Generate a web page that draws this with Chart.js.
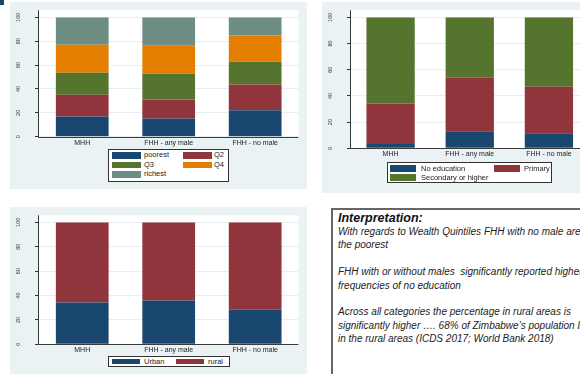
<!DOCTYPE html>
<html>
<head>
<meta charset="utf-8">
<script src="https://cdn.jsdelivr.net/npm/chart.js@4.4.0/dist/chart.umd.min.js"></script>
<style>
    html, body { margin: 0; padding: 0; width: 580px; height: 374px; overflow: hidden; background: #fff; }
    body { position: relative; font-family: "Liberation Sans", Arial, sans-serif; }
    .panel { position: absolute; background: #eaf2f3; }
    .panel canvas { position: absolute; left: 0; top: 0; }
    .legend { position: absolute; background: #fff; border: 1px solid #333; box-sizing: border-box; }
    .legend .key { position: absolute; }
    .legend .lbl { position: absolute; font-size: 7.5px; color: #222; white-space: nowrap; }
    #corner { position: absolute; left: 0; top: 0; width: 4px; height: 5px; background: #1a476f; }
    #notes {
        position: absolute; left: 331px; top: 208px; width: 300px; height: 200px;
        border: 2px solid #666; background: #fff; padding: 1px 0 0 5px;
        font-family: "Liberation Sans", Arial, sans-serif; color: #222; white-space: nowrap;
    }
    #notes h4 { margin: 0; font-size: 12.5px; line-height: 14px; font-style: italic; font-weight: bold; color: #111; }
    #notes p { margin: 0; font-size: 10px; line-height: 13.4px; font-style: italic; }
</style>
</head>
<body>
<div id="corner"></div>

<div class="panel" style="left:10px; top:2px; width:297px; height:187px;">
    <canvas id="wealthChart" width="297" height="187"></canvas>
</div>
<div class="panel" style="left:322px; top:2px; width:280px; height:191px;">
    <canvas id="eduChart" width="280" height="191"></canvas>
</div>
<div class="panel" style="left:10px; top:207px; width:297px; height:180px;">
    <canvas id="areaChart" width="297" height="180"></canvas>
</div>

<div id="wealthLegend" class="legend" style="left:108px; top:149px; width:121px; height:33px;"></div>
<div id="eduLegend" class="legend" style="left:387px; top:162px; width:165px; height:21px;"></div>
<div id="areaLegend" class="legend" style="left:108px; top:356px; width:122px; height:11px;"></div>

<div id="notes">
    <h4>Interpretation:</h4>
    <p>With regards to Wealth Quintiles FHH with no male are<br>
    the poorest<br>
    &nbsp;<br>
    FHH with or without males&nbsp; significantly reported higher<br>
    frequencies of no education<br>
    &nbsp;<br>
    Across all categories the percentage in rural areas is<br>
    significantly higher …. 68% of Zimbabwe’s population lives<br>
    in the rural areas (ICDS 2017; World Bank 2018)</p>
</div>

<script>
// Categories shared by all three panels
const categories = ["MHH", "FHH - any male", "FHH - no male"];
const yTicks = [0, 20, 40, 60, 80, 100];

// Wealth quintiles (% of households)
const wealthNames = ["poorest", "Q2", "Q3", "Q4", "richest"];
const wealthPoorest = [17.0, 15.3, 22.1];
const wealthQ2 = [18.2, 15.8, 21.7];
const wealthQ3 = [18.4, 21.7, 19.0];
const wealthQ4 = [23.4, 23.4, 21.9];
const wealthRichest = [23.0, 23.8, 15.3];

// Education of household head (%)
const eduNames = ["No education", "Primary", "Secondary or higher"];
const eduNone = [3.2, 13.0, 11.5];
const eduPrimary = [31.0, 40.9, 35.4];
const eduSecondary = [65.8, 46.1, 53.1];

// Place of residence (%)
const areaNames = ["Urban", "rural"];
const areaUrban = [34.3, 35.9, 28.4];
const areaRural = [65.7, 64.1, 71.6];

// Stata s2color palette
const navy = "#1a476f";
const maroon = "#90353b";
const forest = "#55752f";
const orange = "#e37e00";
const teal = "#6e8e84";

const fontFamily = "'Liberation Sans', Arial, sans-serif";

// White plot region (with a small margin above 100) and the two axis lines
const plotFrame = {
    id: "plotFrame",
    beforeDraw(chart) {
        const { ctx, chartArea: a } = chart;
        ctx.save();
        ctx.fillStyle = "#fff";
        ctx.fillRect(a.left, a.top - 7, a.right - a.left, a.bottom - a.top + 7);
        ctx.restore();
    },
    afterDraw(chart) {
        const { ctx, chartArea: a } = chart;
        const x = Math.round(a.left) - 0.5;
        const y = Math.round(a.bottom) + 0.5;
        ctx.save();
        ctx.strokeStyle = "#3a3a3a";
        ctx.lineWidth = 1;
        ctx.beginPath();
        ctx.moveTo(x, a.top - 7);
        ctx.lineTo(x, y);
        ctx.lineTo(a.right, y);
        ctx.stroke();
        ctx.restore();
    }
};

function makeChart(canvasId, names, series, colors, pad) {
    const datasets = series.map((values, i) => ({
        label: names[i],
        data: values,
        backgroundColor: colors[i],
        borderWidth: 0,
        categoryPercentage: 1,
        barPercentage: 0.61
    }));

    return new Chart(document.getElementById(canvasId), {
        type: "bar",
        data: { labels: categories, datasets },
        options: {
            responsive: false,
            animation: false,
            devicePixelRatio: 1,
            layout: { padding: { left: 0, top: pad.top, right: pad.right, bottom: pad.bottom } },
            plugins: { legend: { display: false }, tooltip: { enabled: false } },
            scales: {
                x: {
                    stacked: true,
                    grid: { display: false, drawTicks: false },
                    border: { display: false },
                    ticks: { font: { size: 7, family: fontFamily }, color: "#222", padding: 2, maxRotation: 0, autoSkip: false },
                    afterFit: (scale) => { scale.height = 14; }
                },
                y: {
                    stacked: true,
                    min: 0,
                    max: 100,
                    afterBuildTicks: (scale) => { scale.ticks = yTicks.map(v => ({ value: v })); },
                    ticks: {
                        minRotation: 90, maxRotation: 90, crossAlign: "center", padding: 12,
                        font: { size: 5.5, family: fontFamily }, color: "#333"
                    },
                    grid: { color: "#e6eef1", tickColor: "#333", tickLength: 4, lineWidth: 1 },
                    border: { display: false },
                    afterFit: (scale) => { scale.width = 29; }
                }
            }
        },
        plugins: [plotFrame]
    });
}

// Boxed Stata-style legend built from the series names and colours
function makeLegend(boxId, names, colors, cols, geo) {
    const box = document.getElementById(boxId);
    names.forEach((name, i) => {
        const col = i % cols;
        const row = Math.floor(i / cols);
        const top = geo.top + row * geo.rowStep;

        const key = document.createElement("div");
        key.className = "key";
        key.style.cssText = `left:${geo.keyX[col]}px; top:${top}px; width:${geo.keyW}px; height:${geo.keyH}px; background:${colors[i]};`;
        box.appendChild(key);

        const lbl = document.createElement("div");
        lbl.className = "lbl";
        lbl.textContent = name;
        lbl.style.cssText = `left:${geo.textX[col]}px; top:${top}px; line-height:${geo.keyH}px;`;
        box.appendChild(lbl);
    });
}

document.addEventListener("DOMContentLoaded", () => {
    const wealthColors = [navy, maroon, forest, orange, teal];
    const eduColors = [navy, maroon, forest];
    const areaColors = [navy, maroon];

    makeChart("wealthChart", wealthNames,
        [wealthPoorest, wealthQ2, wealthQ3, wealthQ4, wealthRichest], wealthColors,
        { top: 12.7, right: 8.6, bottom: 38.3 });
    makeChart("eduChart", eduNames,
        [eduNone, eduPrimary, eduSecondary], eduColors,
        { top: 12.7, right: 13.5, bottom: 30.7 });
    makeChart("areaChart", areaNames,
        [areaUrban, areaRural], areaColors,
        { top: 13, right: 8.6, bottom: 28.7 });

    makeLegend("wealthLegend", wealthNames, wealthColors, 2,
        { top: 2, rowStep: 9.5, keyX: [3, 74], textX: [35, 105], keyW: 29, keyH: 6.5 });
    makeLegend("eduLegend", eduNames, eduColors, 2,
        { top: 2, rowStep: 9, keyX: [2, 106], textX: [33, 136], keyW: 26, keyH: 7 });
    makeLegend("areaLegend", areaNames, areaColors, 2,
        { top: 2, rowStep: 9, keyX: [3, 67], textX: [35, 99], keyW: 28, keyH: 5 });
});
</script>
</body>
</html>
